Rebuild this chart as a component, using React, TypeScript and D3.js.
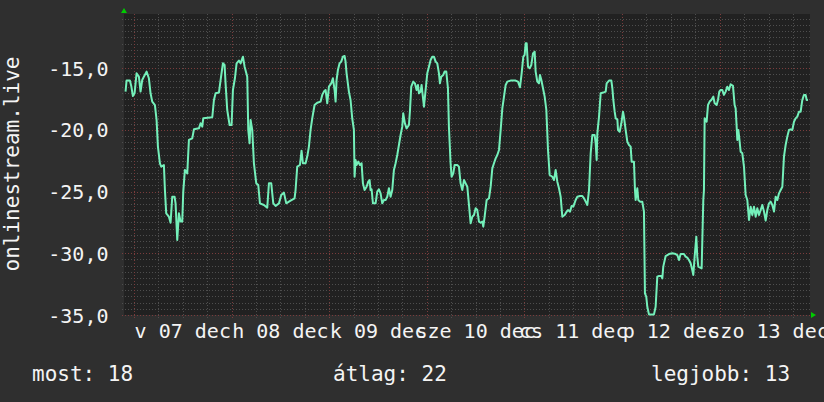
import React from "react";
import * as d3 from "d3";

// time in hours since 07 Dec 00:00, value
const SERIES: [number, number][] = [
  [-2.07,-16.89],[-1.82,-16.0],[-1.0,-16.0],[-0.67,-16.43],[-0.26,-17.25],[0.15,-17.03],[0.64,-15.41],[1.21,-15.68],[1.62,-16.89],[2.03,-15.95],[2.44,-15.68],[3.10,-15.27],[3.67,-15.81],[4.08,-17.03],[4.49,-17.70],[5.15,-17.98],[5.56,-19.19],[5.89,-21.35],[6.38,-22.7],[6.71,-22.97],[7.36,-22.84],[7.61,-24.87],[7.93,-26.76],[8.59,-27.03],[9.0,-27.52],[9.41,-25.41],[9.98,-25.41],[10.23,-25.95],[10.64,-28.92],[11.05,-26.76],[11.46,-27.43],[11.87,-27.43],[12.12,-25.0],[12.52,-23.24],[13.1,-23.52],[13.51,-20.81],[14.33,-20.68],[14.74,-19.95],[15.97,-19.87],[16.38,-19.46],[16.79,-19.73],[17.03,-19.06],[19.25,-18.97],[19.66,-17.57],[20.07,-17.03],[20.89,-16.97],[21.3,-15.95],[21.87,-14.6],[22.28,-14.73],[22.52,-16.22],[22.93,-18.38],[23.51,-19.6],[24.0,-19.6],[24.33,-16.76],[24.82,-15.81],[25.23,-14.6],[25.8,-14.38],[26.21,-14.6],[26.79,-14.06],[27.2,-14.87],[27.85,-15.68],[28.1,-20.0],[28.43,-21.08],[28.67,-19.19],[29.08,-20.0],[29.49,-22.7],[30.07,-24.33],[30.56,-24.46],[30.97,-25.95],[31.95,-26.08],[32.77,-26.3],[33.18,-24.33],[33.75,-24.33],[34.25,-25.95],[34.82,-26.16],[35.64,-25.95],[36.21,-25.27],[36.87,-25.08],[37.44,-25.95],[38.1,-25.81],
  [38.5,-25.73],[39.48,-25.54],[39.73,-24.87],[40.14,-22.97],[40.8,-22.84],[41.2,-21.68],[41.53,-22.7],[42.19,-22.7],[42.6,-22.16],[43.01,-21.35],[43.42,-20.0],[43.83,-19.06],[44.4,-17.98],[45.06,-17.79],[45.88,-17.7],[46.29,-17.16],[46.7,-16.89],[47.11,-16.76],[47.52,-17.84],[47.93,-16.49],[48.5,-16.22],[48.91,-15.81],[49.32,-16.76],[49.57,-17.7],[49.81,-15.95],[50.14,-15.14],[50.55,-14.6],[50.96,-14.46],[51.37,-14.06],[51.78,-14.0],[52.02,-14.46],[52.27,-15.41],[52.84,-16.89],[53.25,-17.57],[53.66,-19.06],[54.07,-20.0],[54.24,-23.79],[54.48,-22.43],[54.73,-22.84],[55.14,-22.57],[55.55,-22.84],[55.96,-22.7],[56.29,-24.33],[56.7,-24.87],[57.19,-24.6],[57.6,-24.19],[57.93,-24.06],[58.17,-24.87],[58.42,-24.81],[58.75,-25.95],[59.4,-25.95],[59.81,-25.0],[60.22,-24.81],[60.63,-25.14],[61.04,-25.95],[61.45,-25.68],[61.86,-25.68],[62.27,-25.41],[62.68,-24.73],[63.09,-25.41],[63.5,-24.87],[63.91,-23.24],[64.32,-22.7],[64.73,-22.03],[65.14,-21.22],[65.55,-20.41],[65.96,-19.73],[66.2,-18.65],[66.61,-19.46],[67.02,-19.87],[67.6,-19.6],[67.84,-18.52],[68.17,-16.49],[68.66,-16.08],[69.07,-16.22],[69.48,-16.76],[69.81,-16.35],[70.06,-17.03],[70.47,-16.89],[70.71,-16.35],[71.29,-18.11],[71.7,-16.76],[72.11,-15.41],[72.52,-14.87],[72.93,-14.33],[73.34,-14.06],[73.75,-14.06],[74.16,-14.46],[74.57,-14.6],[74.98,-15.41],[75.22,-16.22],[75.55,-15.68],[76.04,-15.54],[76.37,-15.27],[76.78,-15.27],[77.19,-16.62],[77.43,-19.73],[77.84,-22.7],[78.09,-23.79],[78.5,-23.52],[78.83,-22.84],[79.48,-22.84],[79.89,-22.97],[80.3,-24.33],
  [80.72,-24.87],[81.13,-24.06],[81.54,-24.33],[81.95,-24.6],[82.36,-26.08],[82.77,-27.57],[83.18,-27.03],[83.59,-26.89],[84.0,-26.35],[84.41,-26.49],[84.82,-27.43],[85.23,-27.52],[85.64,-27.43],[85.88,-27.84],[86.21,-27.03],[86.7,-25.68],[87.28,-25.54],[87.69,-24.6],[88.1,-23.11],[88.51,-22.7],[88.92,-22.3],[89.33,-22.03],[89.74,-21.62],[90.15,-20.0],[90.56,-18.25],[90.97,-17.3],[91.38,-16.35],[91.79,-16.08],[92.6,-16.0],[93.83,-16.0],[94.41,-16.08],[94.9,-16.54],[95.31,-15.41],[95.72,-14.06],[96.05,-13.92],[96.29,-12.97],[96.54,-12.97],[96.87,-14.87],[97.28,-15.0],[97.69,-14.73],[98.1,-13.79],[98.51,-13.65],[98.75,-15.27],[99.16,-16.08],[99.57,-16.22],[99.82,-15.54],[100.15,-15.95],[100.56,-16.62],[100.97,-17.3],[101.38,-18.38],[101.79,-21.62],[102.2,-23.65],[102.85,-23.79],[103.26,-24.06],[103.67,-23.24],[104.08,-24.19],[104.49,-24.73],[104.9,-25.41],[105.31,-27.03],[105.88,-26.89],[106.38,-26.62],[106.7,-26.49],[107.2,-26.62],[107.6,-26.16],[108.02,-26.22],[108.59,-25.68],[109.0,-25.41],[109.65,-25.35],[110.23,-25.35],[110.64,-25.54],[111.05,-25.81],[111.46,-26.08],[111.87,-24.87],[112.28,-21.89],[112.69,-20.41],[113.26,-20.41],[113.51,-21.08],[113.75,-22.43],[113.92,-20.27],[114.33,-18.92],[114.74,-17.03],[115.39,-16.97],[115.97,-16.89],[116.21,-16.22],[116.79,-16.0],[117.36,-16.0],[117.61,-16.62],[117.85,-17.57],[118.18,-18.52],[118.43,-19.06],[118.84,-19.14],[119.0,-20.0],[119.41,-20.14],[119.82,-19.46],[120.23,-18.52],[120.47,-18.97],[120.88,-20.0],[121.29,-20.95],[121.7,-21.22],[122.11,-21.35],
  [122.35,-22.57],[122.92,-22.57],[123.17,-24.87],[123.33,-25.68],[123.74,-24.73],[123.99,-25.68],[124.4,-25.81],[124.97,-25.81],[125.38,-26.62],[125.62,-33.24],[125.95,-33.52],[126.2,-34.33],[126.61,-34.95],[127.84,-34.95],[128.25,-34.33],[128.66,-31.89],[129.07,-31.84],[129.64,-31.84],[129.89,-32.03],[130.13,-31.08],[130.71,-30.22],[131.53,-30.06],[132.35,-30.0],[133.17,-30.06],[133.58,-30.14],[133.99,-30.54],[134.4,-30.06],[135.21,-30.06],[135.62,-30.27],[136.03,-30.35],[136.44,-30.54],[136.85,-30.81],[137.26,-31.35],[137.51,-31.76],[137.84,-30.27],[138.08,-29.33],[138.25,-28.65],[138.49,-30.27],[138.74,-31.08],[139.56,-31.22],[139.97,-25.68],[140.13,-24.87],[140.3,-19.06],[140.79,-19.33],[141.12,-17.98],[141.53,-17.7],[141.94,-17.57],[142.43,-17.3],[142.76,-17.84],[143.25,-17.98],[143.58,-17.57],[143.9,-16.89],[144.23,-16.76],[144.64,-16.76],[145.05,-17.16],[145.46,-16.89],[145.87,-16.49],[146.28,-16.76],[146.69,-16.3],[147.26,-16.43],[147.67,-17.98],[147.92,-18.25],[148.17,-19.73],[148.33,-20.81],[148.58,-20.0],[148.82,-20.68],[149.15,-21.76],[149.56,-21.89],[149.97,-22.97],[150.38,-25.27],[150.79,-25.68],[151.2,-27.3],[151.61,-26.22],[152.02,-26.89],[152.43,-26.22],[152.84,-27.03],[153.25,-26.35],[153.66,-26.89],[154.07,-26.49],[154.48,-26.08],[154.89,-26.62],[155.3,-27.35],[155.71,-26.49],[156.12,-25.95],[156.53,-25.81],[156.94,-26.08],[157.35,-26.62],[157.76,-25.41],[158.17,-25.68],[158.58,-25.14],[158.99,-24.87],[159.4,-24.6],[159.8,-22.16],[160.21,-21.22],[160.62,-20.54],[161.03,-20.0],[161.44,-19.95],[161.85,-20.0],[162.26,-19.33],[162.67,-19.06],[163.08,-18.92],[163.49,-18.52],[163.9,-18.52],[164.31,-17.57],[164.72,-17.16],[165.13,-17.16],[165.38,-17.57],[165.7,-17.57],
];

const Y_TICKS = [-15, -20, -25, -30, -35];
const Y_TICK_LABELS = ["-15,0", "-20,0", "-25,0", "-30,0", "-35,0"];
const DAY_LABELS = ["v 07 dec", "h 08 dec", "k 09 dec", "sze 10 dec", "cs 11 dec", "p 12 dec", "szo 13 dec"];
const Y_TITLE = "onlinestream.live";
const LEGEND = [
  { text: "most: 18", x: 32 },
  { text: "átlag: 22", x: 333 },
  { text: "legjobb: 13", x: 651 },
];

const W = 824, H = 402;
const PL = 124, PR = 810, PT = 14, PB = 315;
const FONT = "'DejaVu Sans Mono', monospace";

export default function App() {
  const x = d3.scaleLinear().domain([-2.45, 166.2]).range([PL, PR]);
  const y = d3.scaleLinear().domain([-35, -10.6]).range([PB, PT]);
  const line = d3.line<[number, number]>().x(d => x(d[0])).y(d => y(d[1]));

  const hMinor = d3.range(-35, -10.6, 0.5);
  const vLines = d3.range(0, 166.2, 6);

  return (
    <svg width={W} height={H} style={{ position: "absolute", left: 0, top: 0 }} fontFamily={FONT}>
      <rect width={W} height={H} fill="#2f2f2f" />
      <rect x={PL} y={PT} width={PR - PL} height={PB - PT} fill="#212121" />
      {hMinor.map(v => {
        const major = Math.abs(v % 5) < 1e-6;
        return (
          <line key={"h" + v} x1={PL - 2} x2={PR + 2} y1={Math.round(y(v)) + 0.5} y2={Math.round(y(v)) + 0.5}
            stroke={major ? "#7a3c3c" : "#4e4e4e"} strokeDasharray="1,2" strokeWidth={1} />
        );
      })}
      {vLines.map(h => {
        const major = h % 24 === 0;
        return (
          <line key={"v" + h} x1={Math.round(x(h)) + 0.5} x2={Math.round(x(h)) + 0.5} y1={PT} y2={PB + 3}
            stroke={major ? "#7a3c3c" : "#4e4e4e"} strokeDasharray="1,2" strokeWidth={1} />
        );
      })}
      <path d={line(SERIES) || ""} fill="none" stroke="#74f0ba" strokeWidth={2} strokeLinejoin="round" />
      {/* arrows */}
      <path d={`M${PL - 3},${PT - 1} L${PL + 3},${PT - 1} L${PL},${PT - 6} Z`} fill="#00cc00" />
      <path d={`M${PR + 1},${PB - 3} L${PR + 1},${PB + 3} L${PR + 6},${PB} Z`} fill="#00cc00" />
      {Y_TICKS.map((v, i) => (
        <text key={"yt" + v} x={108.5} y={y(v) + 7.5} textAnchor="end" fill="#f4f4f4" fontSize={20}>
          {Y_TICK_LABELS[i]}
        </text>
      ))}
      {DAY_LABELS.map((t, i) => (
        <text key={"xl" + i} x={x(i * 24 + 12)} y={338} textAnchor="middle" fill="#f4f4f4" fontSize={20}>
          {t}
        </text>
      ))}
      <text transform={`translate(19,164) rotate(-90)`} textAnchor="middle" fill="#f4f4f4" fontSize={21}>
        {Y_TITLE}
      </text>
      {LEGEND.map(l => (
        <text key={l.text} x={l.x} y={381} fill="#f4f4f4" fontSize={21}>
          {l.text}
        </text>
      ))}
    </svg>
  );
}
